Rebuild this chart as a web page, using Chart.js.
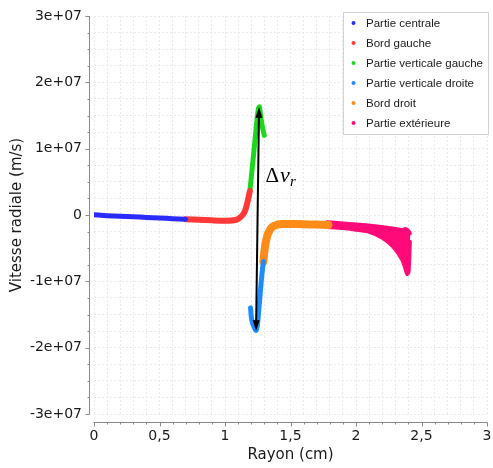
<!DOCTYPE html>
<html>
<head>
<meta charset="utf-8">
<script src="https://cdn.jsdelivr.net/npm/chart.js@4.4.0/dist/chart.umd.min.js"></script>
<style>
  html, body { margin: 0; padding: 0; background: #fff; }
</style>
</head>
<body>
<canvas id="c" width="493" height="468"></canvas>
<script>
// tick labels
const xMajor = [0, 0.5, 1, 1.5, 2, 2.5, 3];
const xLabels = ['0', '0,5', '1', '1,5', '2', '2,5', '3'];
const yMajor = [-3e7, -2e7, -1e7, 0, 1e7, 2e7, 3e7];
const yLabels = ['-3e+07', '-2e+07', '-1e+07', '0', '1e+07', '2e+07', '3e+07'];

// series (rayon en cm, vitesse en m/s)
const centraleX = [0, 0.1, 0.2, 0.3, 0.4, 0.5, 0.6, 0.7];
const centraleV = [0.05e6, -0.1e6, -0.2e6, -0.28e6, -0.36e6, -0.45e6, -0.55e6, -0.63e6];

const gaucheX = [0.7, 0.8, 0.9, 1.0, 1.08, 1.12, 1.15, 1.17, 1.19];
const gaucheV = [-0.63e6, -0.72e6, -0.8e6, -0.85e6, -0.75e6, -0.3e6, 0.5e6, 1.8e6, 3.6e6];

const vertGaucheX = [1.19, 1.21, 1.23, 1.245, 1.255, 1.262, 1.272, 1.285, 1.3];
const vertGaucheV = [3.6e6, 7.5e6, 11.5e6, 14.5e6, 16.0e6, 16.3e6, 15.0e6, 13.3e6, 12.0e6];

const vertDroiteX = [1.195, 1.2, 1.21, 1.225, 1.237, 1.248, 1.258, 1.268, 1.28, 1.293];
const vertDroiteV = [-14e6, -15.2e6, -16.3e6, -17.0e6, -17.4e6, -16.5e6, -14.3e6, -12.0e6, -9.3e6, -7.0e6];

const droitX = [1.293, 1.3, 1.31, 1.33, 1.36, 1.4, 1.45, 1.5, 1.6, 1.7, 1.79];
const droitV = [-7.0e6, -5.6e6, -4.2e6, -2.7e6, -1.8e6, -1.45e6, -1.35e6, -1.35e6, -1.4e6, -1.45e6, -1.5e6];

const exterieurX = [1.78, 1.9, 2.0, 2.1, 2.2, 2.28, 2.35, 2.375, 2.39, 2.405, 2.415];
const exterieurHaut = [-1.0e6, -1.2e6, -1.35e6, -1.5e6, -1.75e6, -1.95e6, -2.2e6, -2.05e6, -2.15e6, -2.4e6, -2.8e6];
const exterieurBas = [-1.9e6, -2.05e6, -2.3e6, -2.6e6, -3.5e6, -4.8e6, -6.8e6, -8.2e6, -9.0e6, -8.6e6, -4.0e6];

// double fleche Delta v_r
const arrowBas = { x: 1.237, y: -17.5e6 };
const arrowHaut = { x: 1.26, y: 16.3e6 };
const deltaPos = { x: 1.31, y: 5.0e6 };

function pts(xs, vs) {
  return xs.map((x, i) => ({ x: x, y: vs[i] }));
}

function serie(label, xs, vs, color, w) {
  return {
    label: label,
    data: pts(xs, vs),
    borderColor: color,
    backgroundColor: color,
    borderWidth: w,
    pointRadius: 0,
    tension: 0.25,
    borderCapStyle: 'round',
    borderJoinStyle: 'round',
    fill: false
  };
}

const datasets = [
  serie('Partie centrale', centraleX, centraleV, '#2b2bff', 5),
  serie('Bord gauche', gaucheX, gaucheV, '#ff3838', 6),
  serie('Partie verticale gauche', vertGaucheX, vertGaucheV, '#1ed61e', 5),
  serie('Partie verticale droite', vertDroiteX, vertDroiteV, '#1e8cff', 5),
  serie('Bord droit', droitX, droitV, '#ff8c19', 8),
  serie('Partie extérieure', exterieurX, exterieurHaut, '#ff0a78', 3),
  serie('', exterieurX, exterieurBas, '#ff0a78', 3)
];
datasets[5].fill = '+1';
datasets[5].tension = 0.2;
datasets[6].tension = 0.2;

function labelFor(vals, labels, v) {
  const i = vals.findIndex(m => Math.abs(m - v) < 1e-6 * (Math.abs(m) + 1));
  return i >= 0 ? labels[i] : '';
}

const tickFont = { family: 'DejaVu Sans', size: 14 };
const titleFont = { family: 'DejaVu Sans', size: 15 };

const decor = {
  id: 'decor',
  afterDatasetsDraw(chart) {
    const ctx = chart.ctx;
    const sx = chart.scales.x, sy = chart.scales.y;
    const x1 = sx.getPixelForValue(arrowBas.x), y1 = sy.getPixelForValue(arrowBas.y);
    const x2 = sx.getPixelForValue(arrowHaut.x), y2 = sy.getPixelForValue(arrowHaut.y);
    const ang = Math.atan2(y2 - y1, x2 - x1);
    const head = 11, half = 3.5;
    ctx.save();
    ctx.strokeStyle = '#000';
    ctx.fillStyle = '#000';
    ctx.lineWidth = 2;
    ctx.beginPath();
    ctx.moveTo(x1 + Math.cos(ang) * head, y1 + Math.sin(ang) * head);
    ctx.lineTo(x2 - Math.cos(ang) * head, y2 - Math.sin(ang) * head);
    ctx.stroke();
    [[x2, y2, ang], [x1, y1, ang + Math.PI]].forEach(([px, py, a]) => {
      ctx.beginPath();
      ctx.moveTo(px, py);
      ctx.lineTo(px - Math.cos(a) * head - Math.sin(a) * half, py - Math.sin(a) * head + Math.cos(a) * half);
      ctx.lineTo(px - Math.cos(a) * head + Math.sin(a) * half, py - Math.sin(a) * head - Math.cos(a) * half);
      ctx.closePath();
      ctx.fill();
    });
    // Delta v_r
    const tx = sx.getPixelForValue(deltaPos.x), ty = sy.getPixelForValue(deltaPos.y);
    ctx.textBaseline = 'alphabetic';
    ctx.font = '21px "Liberation Serif"';
    ctx.fillText('Δ', tx, ty);
    let w = ctx.measureText('Δ').width;
    ctx.font = 'italic 22px "Liberation Serif"';
    ctx.fillText('v', tx + w + 1, ty);
    w += ctx.measureText('v').width + 1;
    ctx.font = 'italic 15px "Liberation Serif"';
    ctx.fillText('r', tx + w, ty + 4);
    ctx.restore();
  },
  afterDraw(chart) {
    const ctx = chart.ctx, a = chart.chartArea;
    const sx = chart.scales.x, sy = chart.scales.y;
    ctx.save();
    // axes detaches
    ctx.strokeStyle = '#8a8a8a';
    ctx.lineWidth = 1;
    const ax = Math.round(a.left) - 4.5, ay = Math.round(a.bottom) + 8.5;
    ctx.beginPath();
    ctx.moveTo(ax, Math.round(a.top));
    ctx.lineTo(ax, Math.round(a.bottom) + 0.5);
    sy.ticks.forEach(t => {
      const p = Math.round(sy.getPixelForValue(t.value)) + 0.5;
      const len = labelFor(yMajor, yLabels, t.value) !== '' ? 4 : 2;
      ctx.moveTo(ax - len, p);
      ctx.lineTo(ax, p);
    });
    ctx.moveTo(Math.round(a.left) - 0.5, ay);
    ctx.lineTo(Math.round(a.right) + 0.5, ay);
    sx.ticks.forEach(t => {
      const p = Math.round(sx.getPixelForValue(t.value)) + 0.5;
      const len = labelFor(xMajor, xLabels, t.value) !== '' ? 4 : 2;
      ctx.moveTo(p, ay);
      ctx.lineTo(p, ay + len);
    });
    ctx.stroke();

    // legende
    const lx = 343.5, ly = 12.5, lw = 145, lh = 122;
    ctx.fillStyle = '#fff';
    ctx.fillRect(lx, ly, lw, lh);
    ctx.strokeStyle = '#d2d2d2';
    ctx.strokeRect(lx, ly, lw, lh);
    ctx.font = '11.5px "Liberation Sans"';
    ctx.textBaseline = 'middle';
    for (let i = 0; i < 6; i++) {
      const d = chart.data.datasets[i];
      const cy = 23 + i * 20;
      ctx.fillStyle = d.borderColor;
      ctx.beginPath();
      ctx.arc(353.5, cy, 2, 0, Math.PI * 2);
      ctx.fill();
      ctx.fillStyle = '#1a1a1a';
      ctx.fillText(d.label, 366, cy + 0.5);
    }
    ctx.restore();
  }
};

new Chart(document.getElementById('c').getContext('2d'), {
  type: 'line',
  data: { datasets: datasets },
  options: {
    responsive: false,
    animation: false,
    layout: { padding: { top: 16, right: 6, left: 0, bottom: 0 } },
    plugins: {
      legend: { display: false },
      tooltip: { enabled: false }
    },
    scales: {
      x: {
        type: 'linear',
        min: 0,
        max: 3,
        afterFit: s => { s.height = 54; s.paddingLeft = 0; s.paddingRight = 0; },
        grid: { color: '#e9e9e9', drawTicks: false },
        border: { display: false, dash: [2, 2] },
        ticks: {
          stepSize: 0.1,
          autoSkip: false,
          maxRotation: 0,
          padding: 14,
          color: '#1a1a1a',
          font: tickFont,
          callback: v => labelFor(xMajor, xLabels, v)
        },
        title: {
          display: true,
          text: 'Rayon (cm)',
          color: '#1a1a1a',
          font: titleFont,
          padding: { top: 0, bottom: 4 }
        }
      },
      y: {
        type: 'linear',
        min: -3e7,
        max: 3e7,
        afterFit: s => { s.width = 94; s.paddingTop = 0; s.paddingBottom = 0; },
        grid: { color: '#e9e9e9', drawTicks: false },
        border: { display: false, dash: [2, 2] },
        ticks: {
          stepSize: 2.5e6,
          autoSkip: false,
          padding: 12,
          color: '#1a1a1a',
          font: tickFont,
          callback: v => labelFor(yMajor, yLabels, v)
        },
        title: {
          display: true,
          text: 'Vitesse radiale (m/s)',
          color: '#1a1a1a',
          font: titleFont,
          padding: { top: 8, bottom: 0 }
        }
      }
    }
  },
  plugins: [decor]
});
</script>
</body>
</html>
